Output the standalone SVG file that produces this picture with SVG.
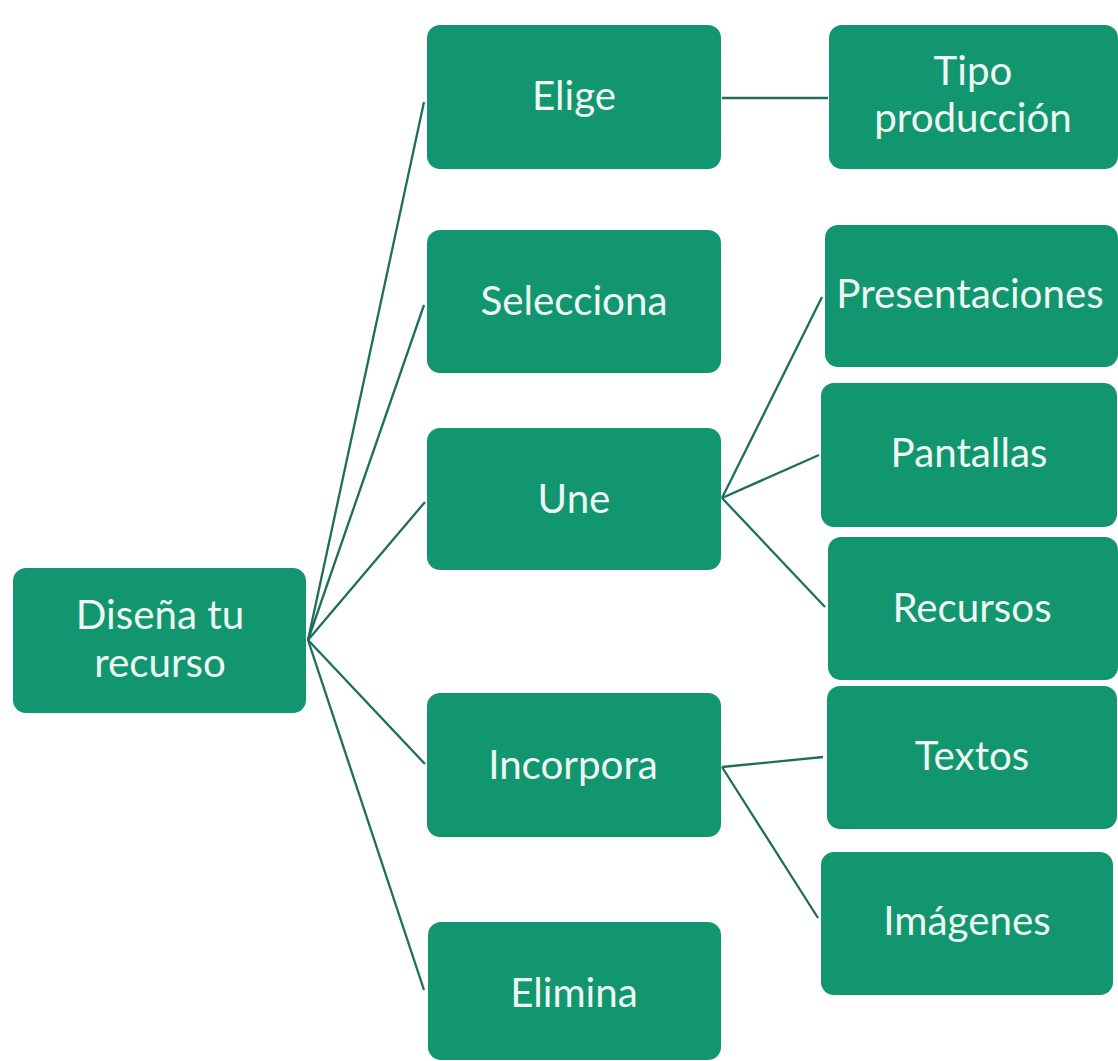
<svg xmlns="http://www.w3.org/2000/svg" width="1118" height="1061" viewBox="0 0 1118 1061">
<style>
.box{fill:#11966f;}
.lbl{font-family:Lato,"Open Sans","Liberation Sans",sans-serif;font-size:40.3px;fill:#eef7f2;text-anchor:middle;}
.conn line{stroke:#1d6f56;stroke-width:2.3;}
</style>
<rect width="1118" height="1061" fill="#ffffff"/>
<g id="connectors" class="conn">
<line x1="308" y1="640" x2="424" y2="102"/>
<line x1="308" y1="640" x2="424" y2="305"/>
<line x1="308" y1="640" x2="425" y2="502"/>
<line x1="308" y1="640" x2="425" y2="764"/>
<line x1="308" y1="640" x2="424" y2="990"/>
<line x1="722" y1="98" x2="828" y2="98"/>
<line x1="722" y1="498" x2="822" y2="297"/>
<line x1="722" y1="498" x2="819" y2="455"/>
<line x1="722" y1="498" x2="825" y2="607"/>
<line x1="722" y1="767" x2="823" y2="757"/>
<line x1="722" y1="767" x2="818" y2="918"/>
</g>
<g id="n-disena"><rect class="box" x="13" y="568" width="293" height="145" rx="13"/><text class="lbl" x="160" y="629">Diseña tu</text><text class="lbl" x="160" y="677">recurso</text></g>
<g id="n-elige"><rect class="box" x="427" y="25" width="294" height="144" rx="13"/><text class="lbl" x="574" y="110">Elige</text></g>
<g id="n-selecciona"><rect class="box" x="427" y="230" width="294" height="143" rx="13"/><text class="lbl" x="574" y="315">Selecciona</text></g>
<g id="n-une"><rect class="box" x="427" y="428" width="294" height="142" rx="13"/><text class="lbl" x="574" y="513">Une</text></g>
<g id="n-incorpora"><rect class="box" x="427" y="693" width="294" height="144" rx="13"/><text class="lbl" x="573" y="779">Incorpora</text></g>
<g id="n-elimina"><rect class="box" x="428" y="922" width="293" height="138" rx="13"/><text class="lbl" x="574" y="1007">Elimina</text></g>
<g id="n-tipo"><rect class="box" x="829" y="25" width="289" height="144" rx="13"/><text class="lbl" x="973" y="85">Tipo</text><text class="lbl" x="973" y="132">producción</text></g>
<g id="n-presentaciones"><rect class="box" x="825" y="225" width="293" height="142" rx="13"/><text class="lbl" x="970" y="308">Presentaciones</text></g>
<g id="n-pantallas"><rect class="box" x="821" y="383" width="296" height="144" rx="13"/><text class="lbl" x="969" y="467">Pantallas</text></g>
<g id="n-recursos"><rect class="box" x="828" y="537" width="290" height="143" rx="13"/><text class="lbl" x="972" y="622">Recursos</text></g>
<g id="n-textos"><rect class="box" x="827" y="686" width="290" height="143" rx="13"/><text class="lbl" x="972" y="770">Textos</text></g>
<g id="n-imagenes"><rect class="box" x="821" y="852" width="292" height="143" rx="13"/><text class="lbl" x="967" y="935">Imágenes</text></g>
</svg>
